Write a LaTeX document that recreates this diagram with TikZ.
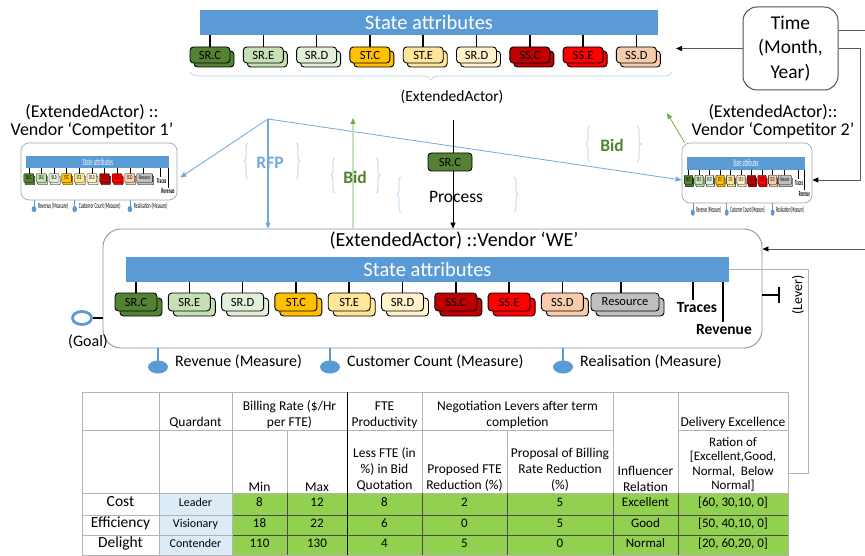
\documentclass[tikz,border=0pt]{standalone}
\usepackage{fontspec}
\setmainfont{Carlito}
\usetikzlibrary{arrows.meta, shapes.geometric, decorations.pathreplacing}

\definecolor{barblue}{RGB}{91,155,213}
\definecolor{srC}{RGB}{84,130,53}
\definecolor{srE}{RGB}{197,224,180}
\definecolor{srD}{RGB}{226,240,217}
\definecolor{stC}{RGB}{255,192,0}
\definecolor{stE}{RGB}{255,230,153}
\definecolor{stD}{RGB}{255,242,204}
\definecolor{ssC}{RGB}{192,0,0}
\definecolor{ssE}{RGB}{255,0,0}
\definecolor{ssD}{RGB}{248,203,173}
\definecolor{resgray}{RGB}{191,191,191}
\definecolor{rfpblue}{RGB}{116,168,218}
\definecolor{bracecol}{RGB}{170,204,234}
\definecolor{bidgreen}{RGB}{84,130,53}
\definecolor{arrowgreen}{RGB}{112,173,71}
\definecolor{palegreen}{RGB}{197,224,180}
\definecolor{boxslate}{RGB}{132,151,176}
\definecolor{timeslate}{RGB}{68,84,106}
\definecolor{tabgreen}{RGB}{146,208,80}
\definecolor{tabblue}{RGB}{221,235,247}
\definecolor{gridgray}{RGB}{180,180,180}

\newcommand\setfs[2]{\fontsize{#1}{#2}\selectfont}
\newcommand\chiplist{SR.C/srC, SR.E/srE, SR.D/srD, ST.C/stC, ST.E/stE, SR.D/stD, SS.C/ssC, SS.E/ssE, SS.D/ssD}

\tikzset{
  statebar/.style={fill=barblue, text=white, inner sep=0pt, font=\setfs{20.5}{24}},
  chip/.style={draw=black, line width=0.9pt, rounded corners=3.5pt, minimum width=42pt, minimum height=18pt, inner sep=0pt, font=\setfs{12.5}{14}},
  stem/.style={draw=black, line width=1.6pt},
  measure/.style={draw=barblue, line width=2pt},
  tagtext/.style={inner sep=0pt, font=\bfseries\setfs{15.5}{18}},
  meastext/.style={inner sep=0pt, font=\setfs{16}{18}},
  vendorbox/.style={draw=boxslate, line width=0.9pt, rounded corners=18pt, fill=white},
  minibox/.style={draw=gray!70, line width=0.7pt, rounded corners=8pt, fill=white},
  vendlbl/.style={align=center, inner sep=0pt, font=\setfs{18}{18}},
  curly/.style={draw=bracecol, line width=0.6pt, decorate, decoration={brace, amplitude=4pt}},
  rfpline/.style={draw=rfpblue, line width=0.8pt, -{Triangle[length=6pt, width=5pt]}},
  conn/.style={draw=gray!70!black, line width=0.8pt, -{Triangle[length=6pt, width=5pt, color=black]}},
  plainline/.style={draw=gray!70!black, line width=0.8pt},
  bigtext/.style={inner sep=0pt, font=\setfs{17.5}{20}},
  grid/.style={draw=gridgray, line width=0.6pt},
  head/.style={align=center, inner sep=1.5pt, anchor=south, font=\setfs{13.5}{16}},
  cell/.style={inner sep=0pt, text height=1.5ex, text depth=0.3ex, font=\setfs{13}{15}},
  mini/.style={transform shape, stem/.style={draw=black, line width=0.4pt}, measure/.style={draw=barblue, line width=0.6pt}, chip/.append style={line width=0.3pt, rounded corners=0.8pt}},
  vendorcore/.pic={
    \node[statebar, minimum width=603pt, minimum height=25pt] (-bar) at (324.5,40.5) {State attributes};
    \foreach \lab/\col [count=\i from 0] in \chiplist {
      \draw[stem] ({33+53.3*\i},53) -- ({33+53.3*\i},64);
      \node[chip, fill=\col] (-s\i) at ({38+53.3*\i},78) {};
      \node[chip, fill=\col] (-c\i) at ({33+53.3*\i},73) {\lab};
    }
    \draw[stem] (518,53) -- (518,64);
    \node[chip, fill=resgray, minimum width=68pt] (-rs) at (527,78) {};
    \node[chip, fill=resgray, minimum width=68pt] (-res) at (522,73) {Resource};
    \draw[stem] (590,53) -- (590,71);
    \node[tagtext] (-tr) at (594,79) {Traces};
    \draw[stem] (620,53) -- (620,93);
    \node[tagtext] (-rev) at (621,101) {Revenue};
    \foreach \mx/\mtext [count=\j] in {55/Revenue (Measure), 227/Customer Count (Measure), 460/Realisation (Measure)} {
      \draw[measure] (\mx,119) -- (\mx,134);
      \fill[barblue] (\mx,138) ellipse [x radius=10pt, y radius=6.5pt];
      \node[meastext, anchor=west] (-m\j) at (\mx+17,133) {\mtext};
    }
  }
}

\begin{document}
\begin{tikzpicture}[x=1pt, y=-1pt]
\useasboundingbox[fill=white] (0,0) rectangle (865,556);

% top row of state attributes
\node[statebar, minimum width=458pt, minimum height=25pt] (topbar) at (429,22.5) {State attributes};
\foreach \lab/\col [count=\i from 0] in \chiplist {
  \draw[stem] ({210+53.3*\i},35) -- ({210+53.3*\i},47);
  \node[chip, fill=\col, minimum width=40pt, minimum height=16pt] (tops\i) at ({214+53.3*\i},59) {};
  \node[chip, fill=\col, minimum width=40pt, minimum height=16pt] (topc\i) at ({210+53.3*\i},55) {\lab};
}
\draw[curly, decoration={amplitude=8pt}] (672,72) -- (190,72);
\node[meastext, font=\setfs{15.5}{18}] (topcap) at (452,97) {(ExtendedActor)};

% time
\node[draw=timeslate, line width=1pt, rounded corners=14pt, minimum width=95pt, minimum height=83pt, align=center, font=\setfs{19.5}{24.5}] (time) at (790.5,48.5) {Time\\(Month,\\Year)};
\coordinate (timeout) at (676,48.5);
\coordinate (edgeA) at (865,30);
\coordinate (loopc) at (860,180);
\coordinate (edgeB) at (865,249);

% vendors
\node[vendorbox, minimum width=659pt, minimum height=119pt] (weBox) at (432.5,288.5) {};
\node[minibox, minimum width=156pt, minimum height=57pt] (c1Box) at (99,171.5) {};
\node[minibox, minimum width=130pt, minimum height=60pt] (c2Box) at (747,173) {};
\pic (we) at (103,229) {vendorcore};
\pic[xscale=0.2367, yscale=0.479, mini] (c1) at (21,143) {vendorcore};
\pic[xscale=0.197, yscale=0.504, mini] (c2) at (682,143) {vendorcore};
\node[inner sep=0pt, font=\setfs{20}{22}] (weTitle) at (454,241) {(ExtendedActor) ::Vendor ‘WE’};
\node[vendlbl] (c1Lbl) at (92,121) {(ExtendedActor) ::\\Vendor ‘Competitor 1’};
\node[vendlbl] (c2Lbl) at (773,121) {(ExtendedActor)::\\Vendor ‘Competitor 2’};

% time links
\draw[conn] (time.west) -- (timeout);
\draw[plainline] (time.east |- edgeA) -- (edgeA);
\draw[conn] (time.east) -| (loopc) -- (c2Box.east |- loopc);
\draw[conn] (edgeB) -- (weBox.east |- edgeB);

% RFP
\coordinate (rfp) at (268,119);
\draw[rfpline] (rfp) -- ([xshift=3pt, yshift=-6pt]c1Box.east);
\draw[rfpline] (rfp) -- ([yshift=-7pt]c2Box.west);
\draw[rfpline, line width=1.1pt] (rfp) -- (rfp |- weBox.north);
\node[bigtext, text=rfpblue, font=\bfseries\setfs{17.5}{20}] (rfpLbl) at (270,163) {RFP};

% bids
\coordinate (bidtip) at (353,118);
\draw[draw=palegreen, line width=1.2pt, -{Triangle[length=6pt, width=5pt, color=arrowgreen]}] (bidtip |- weBox.north) -- (bidtip);
\node[bigtext, text=bidgreen, font=\bfseries\setfs{17.5}{20}] (bidLbl) at (355,177) {Bid};
\coordinate (bid2tip) at (667,113);
\draw[draw=arrowgreen, line width=0.8pt, -{Triangle[length=6pt, width=5pt]}] ([xshift=3pt]c2Box.north west) -- (bid2tip);
\node[bigtext, text=bidgreen, font=\bfseries\setfs{17.5}{20}] (bid2Lbl) at (612,145) {Bid};

% process
\coordinate (proctop) at (453,120);
\draw[draw=black, line width=0.7pt, -{Triangle[length=6pt, width=5pt]}] (proctop) -- (proctop |- weBox.north);
\node[chip, fill=srC, minimum width=44pt] (procChip) at (450,162) {SR.C};
\node[bigtext] (procLbl) at (456,197) {Process};

% braces around the labels
\foreach \xl/\xr/\yt/\yb in {248/296/143/179, 335/376/158/193, 401/514/177/212, 590/637/126/162} {
  \draw[curly] (\xl,\yb) -- (\xl,\yt);
  \draw[curly] (\xr,\yt) -- (\xr,\yb);
}

% goal and lever
\node[ellipse, draw=barblue, line width=2.8pt, fill=white, minimum width=19pt, minimum height=13pt, inner sep=0pt] (goal) at (82,318) {};
\draw[line width=2pt] (goal.east) -- (goal.east -| weBox.west);
\node[meastext] (goalLbl) at (88,342) {(Goal)};
\coordinate (levT) at (779,295);
\draw[line width=2pt] (weBox.east |- levT) -- (levT);
\draw[line width=2pt] ([yshift=8pt]levT) -- ([yshift=-8pt]levT);
\node[rotate=90, inner sep=0pt, font=\setfs{14}{16}] (levLbl) at (798,295) {(Lever)};
\coordinate (levc) at (808,473);
\draw[grid, line width=0.8pt] (we-bar.east) -| (levc) -- (788,473);

% table
\fill[tabblue] (159,493) rectangle (232,555);
\fill[tabgreen] (232,493) rectangle (788,555);
\draw[grid] (82,392) rectangle (788,555);
\draw[grid] (82,430) -- (613,430) (678,430) -- (788,430);
\draw[grid] (82,493) -- (788,493);
\draw[grid] (82,515) -- (232,515) (82,535) -- (232,535);
\draw[black!70, line width=0.5pt] (232,515) -- (788,515) (232,535) -- (788,535);
\foreach \cx in {159,232,422,613,678} \draw[grid] (\cx,392) -- (\cx,555);
\foreach \cx in {287,507} \draw[grid] (\cx,430) -- (\cx,555);
\foreach \cx in {287,422,507,613,678} \draw[black!70, line width=0.5pt] (\cx,493) -- (\cx,555);
\draw[black, line width=0.8pt] (347,392) -- (347,555);

\node[head] (hQuad) at (195.5,430) {Quardant};
\node[head] (hBill) at (289.5,430) {Billing Rate (\$/Hr\\per FTE)};
\node[head] (hMin) at (259.5,493) {Min};
\node[head] (hMax) at (317,493) {Max};
\node[head] (hFte) at (384.5,430) {FTE\\Productivity};
\node[head] (hLess) at (384.5,493) {Less FTE (in\\\%) in Bid\\Quotation};
\node[head] (hNeg) at (517.5,430) {Negotiation Levers after term\\completion};
\node[head] (hPfr) at (464.5,493) {Proposed FTE\\Reduction (\%)};
\node[head] (hPbr) at (560,493) {Proposal of Billing\\Rate Reduction\\(\%)};
\node[head] (hInf) at (645.5,493) {Influencer\\Relation};
\node[head] (hDel) at (733,430) {Delivery Excellence};
\node[head, font=\setfs{13}{14.5}] (hRat) at (733,493) {Ration of\\{[Excellent,Good,}\\Normal,~~Below\\Normal]};

\foreach \ry/\rowlab/\qd/\mn/\mxv/\fte/\pf/\pb/\infl/\del [count=\ri] in {
  504/Cost/Leader/8/12/8/2/5/Excellent/{[60, 30,10, 0]},
  525/Efficiency/Visionary/18/22/6/0/5/Good/{[50, 40,10, 0]},
  545/Delight/Contender/110/130/4/5/0/Normal/{[20, 60,20, 0]}} {
  \node[cell, font=\setfs{15.5}{18}] (row\ri) at (120.5,\ry) {\rowlab};
  \node[cell, font=\setfs{12}{14}] (quad\ri) at (195.5,\ry) {\qd};
  \node[cell] (min\ri) at (259.5,\ry) {\mn};
  \node[cell] (max\ri) at (317,\ry) {\mxv};
  \node[cell] (fte\ri) at (384.5,\ry) {\fte};
  \node[cell] (pfr\ri) at (464.5,\ry) {\pf};
  \node[cell] (pbr\ri) at (560,\ry) {\pb};
  \node[cell] (inf\ri) at (645.5,\ry) {\infl};
  \node[cell] (del\ri) at (733,\ry) {\del};
}
\end{tikzpicture}
\end{document}
